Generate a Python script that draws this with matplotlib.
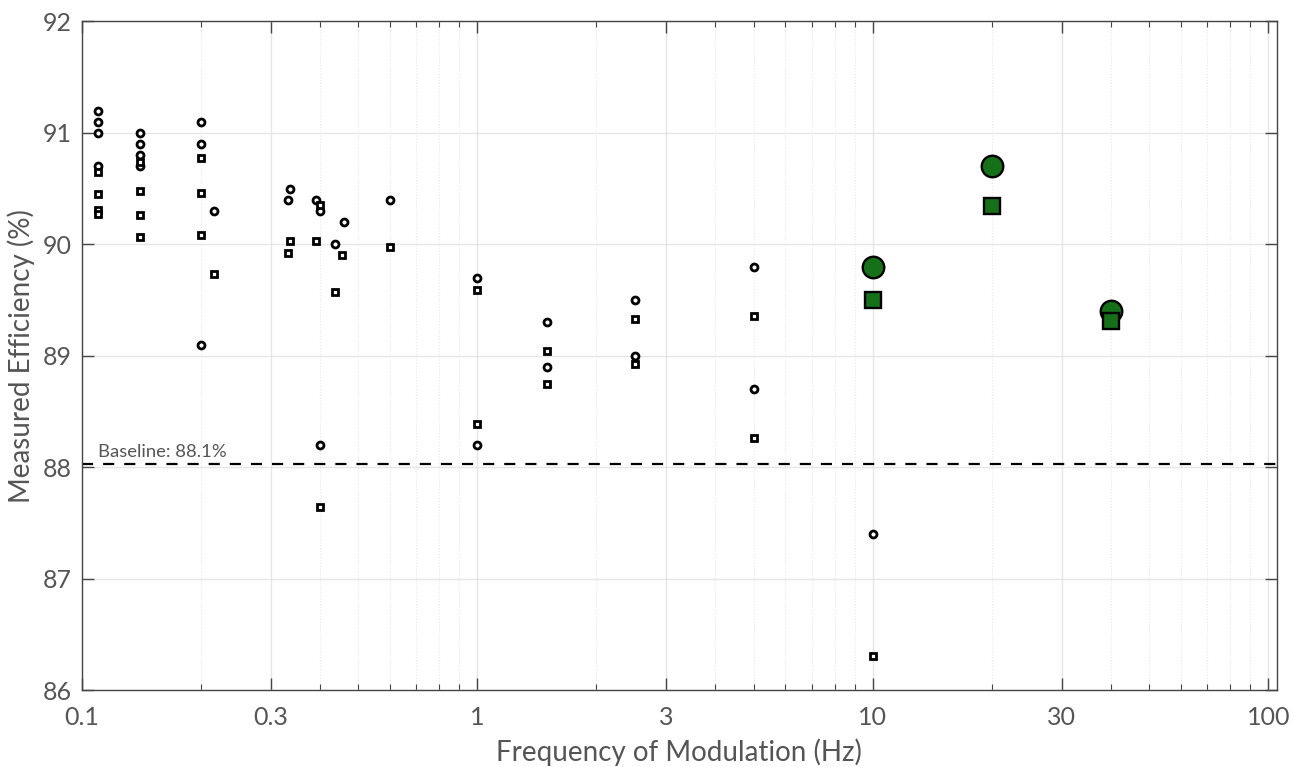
import numpy as np
import matplotlib
matplotlib.use('Agg')
import matplotlib.pyplot as plt
from matplotlib.ticker import FixedLocator, LogLocator, NullFormatter

plt.rcParams['font.family'] = ['Lato', 'DejaVu Sans']

# 測量資料: 圓點 / 方點
circle_freq = [0.11, 0.11, 0.11, 0.11, 0.14, 0.14, 0.14, 0.14, 0.2, 0.2, 0.2, 0.216,
               0.331, 0.336, 0.39, 0.40, 0.40, 0.437, 0.46, 0.6, 1.0, 1.0, 1.5, 1.5,
               2.5, 2.5, 5, 5, 10]
circle_eff = [91.2, 91.1, 91.0, 90.7, 91.0, 90.9, 90.8, 90.7, 91.1, 90.9, 89.1, 90.3,
              90.4, 90.5, 90.4, 90.3, 88.2, 90.0, 90.2, 90.4, 89.7, 88.2, 89.3, 88.9,
              89.5, 89.0, 89.8, 88.7, 87.4]

square_freq = [0.11, 0.11, 0.11, 0.11, 0.14, 0.14, 0.14, 0.14, 0.2, 0.2, 0.2, 0.216,
               0.331, 0.336, 0.39, 0.40, 0.40, 0.437, 0.455, 0.6, 1.0, 1.0, 1.5, 1.5,
               2.5, 2.5, 5, 5, 10]
square_eff = [90.65, 90.45, 90.31, 90.27, 90.74, 90.48, 90.26, 90.07, 90.77, 90.46, 90.08, 89.73,
              89.92, 90.03, 90.03, 90.35, 87.64, 89.57, 89.90, 89.98, 89.59, 88.39, 89.04, 88.75,
              89.33, 88.93, 89.36, 88.26, 86.31]

# 高頻結果 (綠色)
hf_freq = [10, 20, 40]
hf_circle_eff = [89.8, 90.7, 89.4]
hf_square_eff = [89.5, 90.34, 89.31]

baseline = 88.03
baseline_label = 'Baseline: 88.1%'

x_ticks = [0.1, 0.3, 1, 3, 10, 30, 100]
x_tick_labels = ['0.1', '0.3', '1', '3', '10', '30', '100']
y_ticks = [86, 87, 88, 89, 90, 91, 92]

txt_color = '#555555'
spine_color = '#444444'
green = '#16701a'

fig = plt.figure(figsize=(13.03, 7.67), dpi=100)
ax = fig.add_axes([0.0629, 0.1000, 0.9169, 0.8722])

ax.set_xscale('log')
ax.set_xlim(0.1, 105)
ax.set_ylim(86, 92)

# 網格
ax.xaxis.set_major_locator(FixedLocator(x_ticks))
ax.set_xticklabels(x_tick_labels)
ax.xaxis.set_minor_locator(LogLocator(base=10, subs=np.arange(1, 10)))
ax.xaxis.set_minor_formatter(NullFormatter())
ax.set_yticks(y_ticks)
ax.grid(True, which='major', color='#e6e6e6', linewidth=1.0, linestyle='-')
ax.grid(True, which='minor', axis='x', color='#e6e6e6', linewidth=0.8, linestyle=':')
ax.set_axisbelow(True)

ax.axhline(baseline, color='black', linewidth=1.6, linestyle=(0, (5, 4.5)), zorder=2)
ax.text(0.1095, baseline + 0.04, baseline_label, fontsize=13.3, color=txt_color,
        ha='left', va='bottom')

ax.plot(circle_freq, circle_eff, linestyle='none', marker='o', markersize=5.0,
        markerfacecolor='white', markeredgecolor='black', markeredgewidth=2.0, zorder=3)
ax.plot(square_freq, square_eff, linestyle='none', marker='s', markersize=4.6,
        markerfacecolor='white', markeredgecolor='black', markeredgewidth=2.0, zorder=3)

ax.plot(hf_freq, hf_circle_eff, linestyle='none', marker='o', markersize=15.5,
        markerfacecolor=green, markeredgecolor='black', markeredgewidth=1.7, zorder=4)
ax.plot(hf_freq, hf_square_eff, linestyle='none', marker='s', markersize=12,
        markerfacecolor=green, markeredgecolor='black', markeredgewidth=1.7, zorder=4)

for s in ax.spines.values():
    s.set_color(spine_color)
    s.set_linewidth(1.0)

ax.tick_params(which='both', direction='in', top=True, right=True, colors=spine_color,
               labelcolor=txt_color)
ax.tick_params(which='major', length=8.5, width=1.0, labelsize=18)
ax.tick_params(which='minor', length=4.5, width=0.8)
ax.tick_params(axis='x', which='major', pad=11)
ax.tick_params(axis='y', which='major', pad=7)

ax.set_xlabel('Frequency of Modulation (Hz)', fontsize=20, color=txt_color, labelpad=7)
ax.set_ylabel('Measured Efficiency (%)', fontsize=20, color=txt_color, labelpad=6)

plt.savefig('out.png', dpi=100)
